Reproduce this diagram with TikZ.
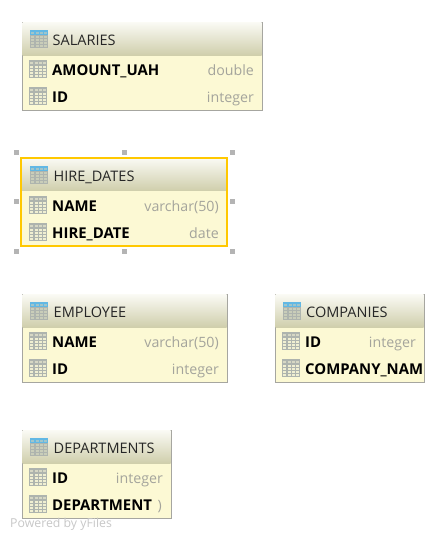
\documentclass[tikz,border=0pt]{standalone}
\usepackage{fontspec}
\setmainfont{Open Sans}
\usepackage{xcolor}
\usetikzlibrary{positioning, shadows}
\definecolor{bodyfill}{HTML}{FCF9D4}
\definecolor{headtop}{HTML}{FAFAF4}
\definecolor{headbottom}{HTML}{CFCEAB}
\definecolor{tableline}{HTML}{A6A6A0}
\definecolor{typegray}{HTML}{A4A49C}
\definecolor{selectline}{HTML}{FFC800}
\definecolor{handlegray}{HTML}{B4B4B4}
\definecolor{icongray}{HTML}{AEB4AE}
\definecolor{iconblue}{HTML}{62B8E4}
\definecolor{iconcell}{HTML}{F0EFD2}
\definecolor{iconheadcell}{HTML}{C9CDB9}

\newcommand{\tablegrid}[2]{
    \fill[icongray] (0,0) rectangle (18,18);
    \fill[#1] (0,0) rectangle (18,5);
    \foreach \cx in {1,5.5,10,14} \foreach \cy in {5.5,8.5,11.5,14.5}
        \fill[#2] (\cx,\cy) rectangle ++(3.2,2.3);
    \foreach \cx in {1,5.5,10,14}
        \fill[#2!60!#1] (\cx,1.5) rectangle ++(3.2,2.5);
}

\tikzset{
    pics/headicon/.style={code={\tablegrid{iconblue}{iconheadcell}}},
    pics/rowicon/.style={code={\tablegrid{icongray}{iconcell}}}
}

\begin{document}
\begin{tikzpicture}[
        x=1pt, y=-1pt,
        tablebody/.style={rectangle, draw=tableline, fill=bodyfill, anchor=north west, minimum height=88pt, inner sep=0pt, outer sep=0pt,
            drop shadow={shadow xshift=1pt, shadow yshift=-1pt, fill=black!62, opacity=1}},
        tablesel/.style={rectangle, draw=selectline, line width=2pt, anchor=north west, minimum height=88pt, inner sep=0pt, outer sep=0pt},
        tablehead/.style={rectangle, top color=headtop, bottom color=headbottom, anchor=north west, minimum height=33pt, inner sep=0pt, outer sep=0pt},
        headtext/.style={anchor=base west, inner sep=0pt, yshift=-1pt, font=\fontsize{14.5}{16}\selectfont, text=black!85},
        colname/.style={anchor=base west, inner sep=0pt, yshift=-0.7pt, font=\fontsize{14.9}{16}\selectfont\bfseries, text=black},
        coltype/.style={anchor=base east, inner sep=0pt, yshift=-0.7pt, font=\fontsize{14.2}{16}\selectfont, text=typegray},
        handle/.style={rectangle, fill=handlegray, minimum size=5pt, inner sep=0pt},
        powered/.style={anchor=base west, inner sep=0pt, font=\fontsize{12.3}{13}\selectfont, text=black!22}
    ]
        \useasboundingbox (0,0) rectangle (445,539);

        % SALARIES
        \node (salaries) [tablebody, minimum width=240pt] at (22,22) {};
        \node (salarieshead) [tablehead, minimum width=239pt] at (22.5,22.5) {};
        \pic at (30,30) {headicon};
        \node (salariestitle) [headtext] at (52.5,44.5) {SALARIES};
        \pic at (29,60) {rowicon};
        \node (salariesamount) [colname] at (52,74.5) {AMOUNT\_UAH};
        \node (salariesdouble) [coltype] at (254,74.5) {double};
        \pic at (29,87) {rowicon};
        \node (salariesid) [colname] at (52,101.5) {ID};
        \node (salariesinteger) [coltype] at (254,101.5) {integer};

        % HIRE_DATES
        \node (hirehead) [tablehead, minimum width=206pt] at (21,158) {};
        \fill[bodyfill] (21,191) rectangle (227,246);
        \node (hire) [tablesel, minimum width=206pt] at (21,158) {};
        \pic at (30,166) {headicon};
        \node (hiretitle) [headtext] at (53.5,180.5) {HIRE\_DATES};
        \pic at (29,196) {rowicon};
        \node (hirename) [colname] at (52,210.5) {NAME};
        \node (hirevarchar) [coltype] at (219,210.5) {varchar(50)};
        \pic at (29,223) {rowicon};
        \node (hiredate) [colname] at (52,237.5) {HIRE\_DATE};
        \node (hiretype) [coltype] at (219,237.5) {date};
        \foreach \hx/\hy [count=\hi] in {16/152, 124/152, 232/152, 16/201, 232/201, 16/251, 124/251, 232/251}
            \node (handle\hi) [handle] at (\hx,\hy) {};

        % EMPLOYEE
        \node (employee) [tablebody, minimum width=205pt] at (22,294) {};
        \node (employeehead) [tablehead, minimum width=204pt] at (22.5,294.5) {};
        \pic at (30,302) {headicon};
        \node (employeetitle) [headtext] at (53.5,316.5) {EMPLOYEE};
        \pic at (29,332) {rowicon};
        \node (employeename) [colname] at (52,346.5) {NAME};
        \node (employeevarchar) [coltype] at (219,346.5) {varchar(50)};
        \pic at (29,359) {rowicon};
        \node (employeeid) [colname] at (52,373.5) {ID};
        \node (employeeinteger) [coltype] at (219,373.5) {integer};

        % COMPANIES
        \node (companies) [tablebody, minimum width=149pt] at (275,294) {};
        \node (companieshead) [tablehead, minimum width=148pt] at (275.5,294.5) {};
        \pic at (283,302) {headicon};
        \node (companiestitle) [headtext] at (306,316.5) {COMPANIES};
        \pic at (282,332) {rowicon};
        \node (companiesid) [colname] at (305,346.5) {ID};
        \node (companiesinteger) [coltype] at (416,346.5) {integer};
        \pic at (282,359) {rowicon};
        \node (companiesname) [colname] at (305,373.5) {COMPANY\_NAM};

        % DEPARTMENTS
        \node (departments) [tablebody, minimum width=149pt] at (22,430) {};
        \node (departmentshead) [tablehead, minimum width=148pt] at (22.5,430.5) {};
        \pic at (30,438) {headicon};
        \node (departmentstitle) [headtext] at (53.5,452.5) {DEPARTMENTS};
        \pic at (29,468) {rowicon};
        \node (departmentsid) [colname] at (52,482.5) {ID};
        \node (departmentsinteger) [coltype] at (163,482.5) {integer};
        \pic at (29,495) {rowicon};
        \node (departmentsname) [colname] at (52,509.5) {DEPARTMENT};
        \node (departmentsparen) [coltype] at (162,509.5) {)};

        \node (poweredby) [powered] at (10,527) {Powered by yFiles};
    \end{tikzpicture}
\end{document}
